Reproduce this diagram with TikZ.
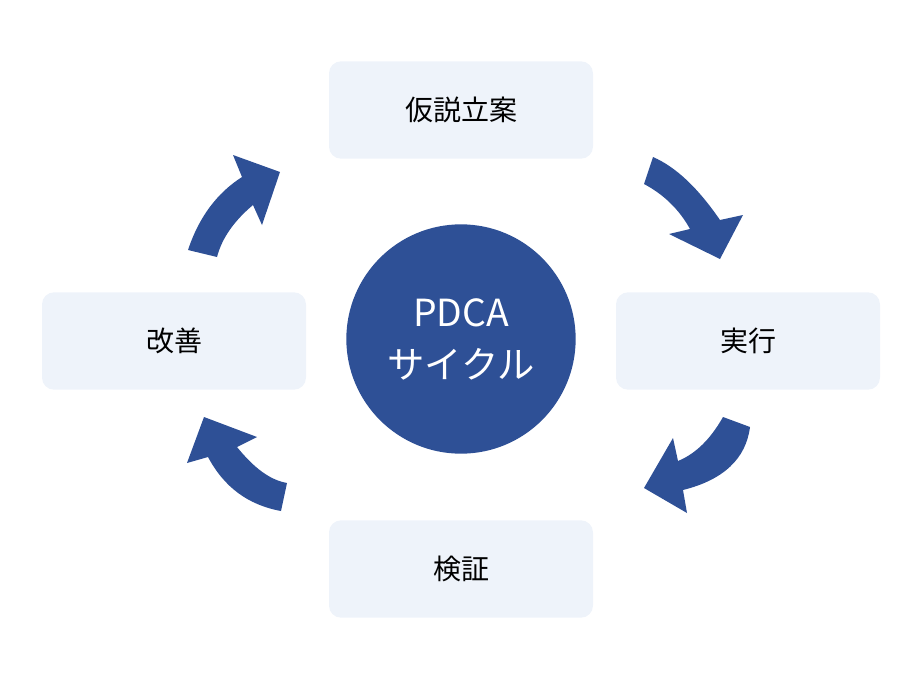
\documentclass[tikz,border=0pt]{standalone}
\usepackage{fontspec}
\setmainfont{Noto Sans CJK JP}
\usepackage{tikz}
\definecolor{pdcablue}{RGB}{46,80,150}
\definecolor{stepfill}{RGB}{238,243,250}

\begin{document}
\begin{tikzpicture}[x=0.75pt,y=-0.75pt,
    stepbox/.style={fill=stepfill, rounded corners=9pt, minimum width=198pt, minimum height=73pt, font=\fontsize{21}{25}\selectfont},
    cyclearrow/.style={fill=pdcablue}]
    \useasboundingbox (0,0) rectangle (922,679);

    % Center circle
    \node[circle, fill=pdcablue, minimum size=172pt, inner sep=0pt, text=white, align=center, font=\fontsize{28}{39}\selectfont] (cycle) at (461,339) {PDCA\\サイクル};

    % Steps around the circle
    \node[stepbox] (plan) at (461,110) {仮説立案};
    \node[stepbox] (do) at (748,341) {実行};
    \node[stepbox] (check) at (461,569) {検証};
    \node[stepbox] (act) at (174,341) {改善};

    % Arrow (plan -> do)
    \fill[cyclearrow] (653,157) .. controls (676,167) and (698,188) .. (720,220) -- (743,215) -- (720,259) -- (669,234) -- (690,229) .. controls (679,209) and (663,194) .. (644,184) -- cycle;

    % Arrow (do -> check)
    \fill[cyclearrow] (750,427) .. controls (746,459) and (723,480) .. (683,490) -- (687,513) -- (644,488) -- (673,438) -- (678,461) .. controls (695,454) and (710,440) .. (723,417) -- cycle;

    % Arrow (check -> act)
    \fill[cyclearrow] (281,511) .. controls (248,505) and (224,487) .. (208,457) -- (187,463) -- (204,417) -- (257,437) -- (237,447) .. controls (254,468) and (270,480) .. (287,483) -- cycle;

    % Arrow (act -> plan)
    \fill[cyclearrow] (188,250) .. controls (199,217) and (217,193) .. (242,177) -- (233,155) -- (280,172) -- (262,225) -- (253,205) .. controls (234,221) and (222,238) .. (217,257) -- cycle;
\end{tikzpicture}
\end{document}
